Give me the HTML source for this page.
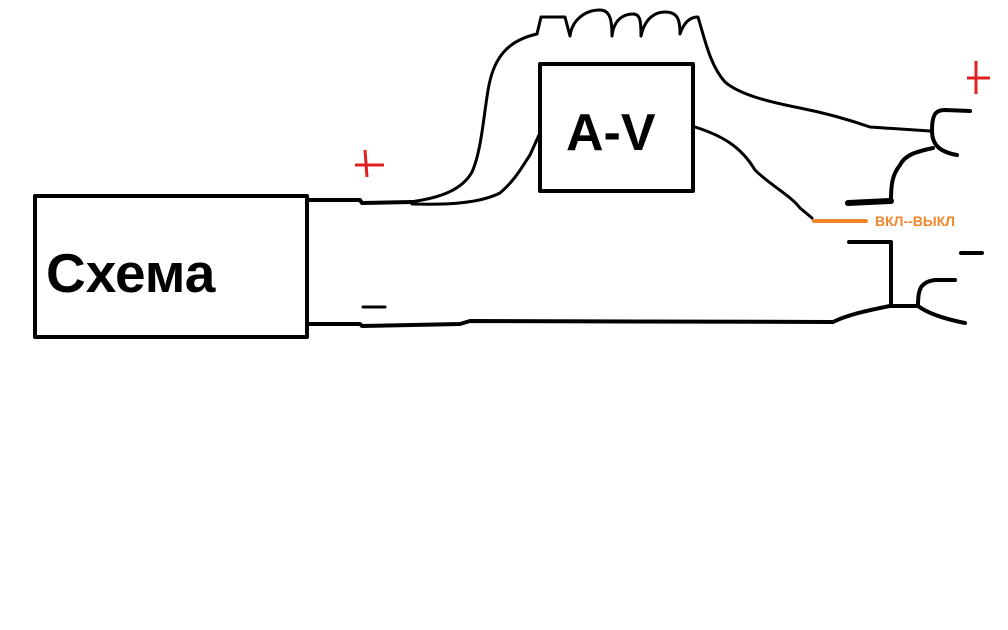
<!DOCTYPE html>
<html><head><meta charset="utf-8"><style>
html,body{margin:0;padding:0;background:#fff;}
svg{display:block;}
</style></head><body>
<svg width="1008" height="630" viewBox="0 0 1008 630" xmlns="http://www.w3.org/2000/svg">
<rect width="1008" height="630" fill="#fff"/>
<g fill="none" stroke="#000" stroke-linecap="round" stroke-linejoin="round">
<rect x="35" y="196" width="272" height="141" stroke-width="4"/>
<rect x="540" y="64" width="153" height="127" stroke-width="4"/>
<path d="M307 200 L360 200 L362 203 L412 202" stroke-width="4"/>
<path d="M410 202 C440 198 462 190 472 172 C482 150 484 110 489 85 C495 55 510 40 537 34 L541 17 L565 17 L570 36 C572 20 585 10 600 10 C610 10 612 20 612 36 C614 18 625 14 633 14 C640 14 641 20 641 36 C645 18 655 12 665 12 C678 12 680 20 680 34 C684 22 690 17 698 17 C705 40 710 65 725 82 C740 95 770 102 800 108 C830 114 850 120 870 127 L930 131" stroke-width="3"/>
<path d="M412 204 C450 205 480 203 500 193 C515 180 520 170 530 155 L539 135" stroke-width="3"/>
<path d="M695 127 C720 135 740 145 755 170 C770 185 790 195 800 208 L812 218" stroke-width="3"/>
<path d="M970 111 L945 110 C935 110 932 115 932 131 C932 145 940 152 957 155" stroke-width="4"/>
<path d="M933 148 C915 152 905 155 900 165 C892 175 891 185 891 201" stroke-width="4"/>
<path d="M848 203 L891 201" stroke-width="6"/>
<path d="M849 242 L891 242 L891 305" stroke-width="4"/>
<path d="M307 324 L360 324 L362 326 L460 324 L470 321 L833 322 C845 316 860 312 890 306 L918 306 C930 315 950 320 965 323" stroke-width="4"/>
<path d="M955 280 L935 280 C920 282 918 290 918 305" stroke-width="4"/>
<path d="M363 307 L385 307" stroke-width="3"/>
<path d="M961 253 L982 253" stroke-width="4"/>
</g>
<g stroke="#e02020" stroke-width="3" fill="none">
<path d="M355 165 L384 165 M365 150 L367 177"/>
<path d="M967 78 L990 78 M976 61 L976 94"/>
</g>
<path d="M814 221 L866 221" stroke="#f0862a" stroke-width="4" stroke-linecap="round"/>
<text x="875" y="226" font-family="Liberation Sans, sans-serif" font-weight="bold" font-size="14" fill="#f0862a">ВКЛ--ВЫКЛ</text>
<text x="46" y="292" font-family="Liberation Sans, sans-serif" font-weight="bold" font-size="55" fill="#000">Схема</text>
<text x="566" y="150" font-family="Liberation Sans, sans-serif" font-weight="bold" font-size="52" fill="#000">A-V</text>
</svg>
</body></html>
